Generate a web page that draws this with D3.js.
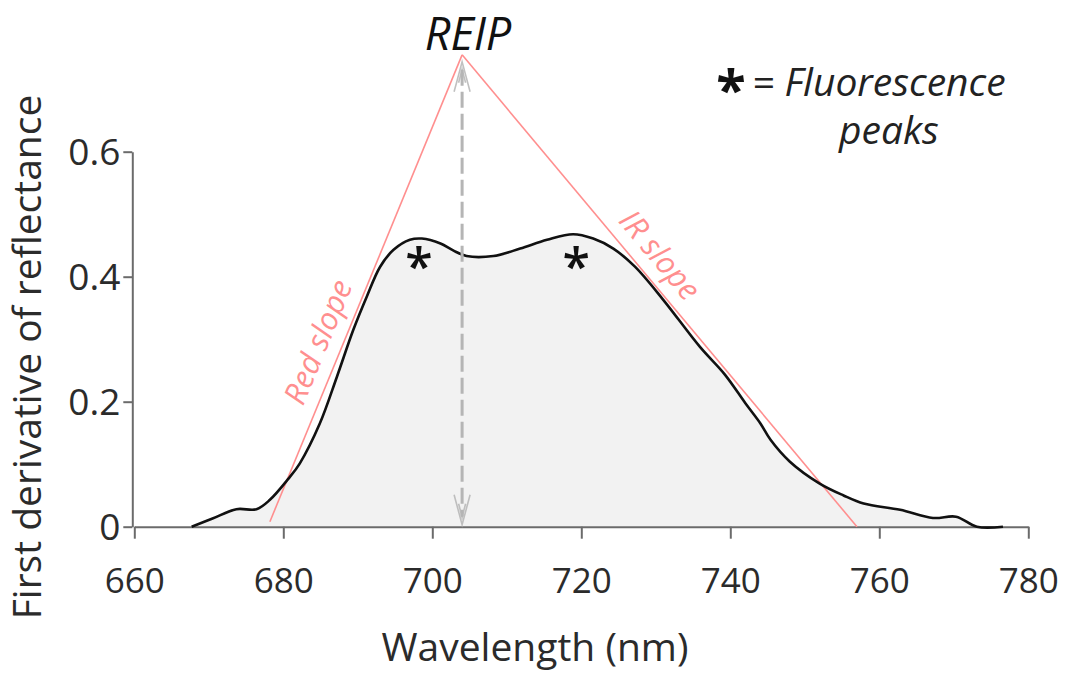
<!DOCTYPE html>
<html>
<head>
<meta charset="utf-8">
<script src="https://cdn.jsdelivr.net/npm/d3@7"></script>
<style>
  html, body { margin: 0; padding: 0; background: #fff; }
  svg { display: block; font-family: "Open Sans", sans-serif; }
</style>
</head>
<body>
<svg id="chart" width="1066" height="674"></svg>
<script>
// First-derivative reflectance spectrum of the red edge
const wavelengths = [667.7, 670.5, 673.7, 676.4, 678.2, 680.7, 682.2, 684.9, 687.2, 689.4, 691.2, 693.0, 694.8,
  697.0, 698.6, 701.1, 702.8, 704.6, 708.2, 711.8, 715.4, 718.9, 721.6, 724.3, 727.2, 731.0, 735.9,
  739.3, 742.0, 744.0, 745.4, 748.0, 752.0, 755.2, 757.9, 762.8, 767.2, 770.3, 773.1, 776.6];
const derivative = [0.000, 0.013, 0.028, 0.028, 0.043, 0.077, 0.101, 0.165, 0.240, 0.315, 0.368, 0.416, 0.443,
  0.459, 0.461, 0.453, 0.442, 0.433, 0.433, 0.445, 0.459, 0.468, 0.461, 0.445, 0.416, 0.363, 0.288,
  0.243, 0.198, 0.166, 0.139, 0.104, 0.069, 0.050, 0.037, 0.027, 0.014, 0.016, 0.000, 0.000];

// Tangent lines meeting at the red-edge inflection point
const reipWavelength = 704.0;
const apexValue = 0.755;
const redSlope = [[678.2, 0.008], [reipWavelength, apexValue]];
const irSlope = [[reipWavelength, apexValue], [757.0, 0.0]];

// Fluorescence peak markers
const peakWavelengths = [698.2, 719.3];
const peakValues = [0.43, 0.43];

const xTicks = [660, 680, 700, 720, 740, 760, 780];
const yTicks = [0, 0.2, 0.4, 0.6];
const yTickLabels = ["0", "0.2", "0.4", "0.6"];

const svg = d3.select("#chart");
const x = d3.scaleLinear().domain([660, 780]).range([134.3, 1028.3]);
const y = d3.scaleLinear().domain([0, 0.6]).range([526.7, 151.7]);

const axisColor = "#6b6b6b";
const textColor = "#2b2b2b";
const slopeColor = "#ff8f8f";

// Area under the curve
const pts = wavelengths.map((w, i) => [w, derivative[i]]);
svg.append("path")
  .datum(pts)
  .attr("fill", "#f2f2f2")
  .attr("d", d3.area().x(d => x(d[0])).y0(y(0)).y1(d => y(d[1])).curve(d3.curveCatmullRom.alpha(0.5)));

// Axes
const xAxis = svg.append("g")
  .attr("transform", `translate(0,${y(0)})`)
  .call(d3.axisBottom(x).tickValues(xTicks).tickFormat(d3.format("d")).tickSize(12).tickSizeOuter(0));
const yAxis = svg.append("g")
  .attr("transform", `translate(${x(660) - 2},0)`)
  .call(d3.axisLeft(y).tickValues(yTicks).tickFormat((d, i) => yTickLabels[i]).tickSize(9).tickSizeOuter(0));

[xAxis, yAxis].forEach(g => {
  g.select(".domain").attr("stroke", axisColor).attr("stroke-width", 2);
  g.selectAll(".tick line").attr("stroke", axisColor).attr("stroke-width", 2);
  g.selectAll(".tick text")
    .attr("fill", textColor)
    .style("font-family", "'Open Sans', sans-serif")
    .style("font-size", "35px");
});
xAxis.selectAll(".tick text").attr("dy", "0").attr("y", 66);
yAxis.selectAll(".tick text").attr("x", -12).attr("dy", "0.35em").style("font-size", "37px");

// Tangent lines
[redSlope, irSlope].forEach(seg => {
  svg.append("line")
    .attr("x1", x(seg[0][0])).attr("y1", y(seg[0][1]))
    .attr("x2", x(seg[1][0])).attr("y2", y(seg[1][1]))
    .attr("stroke", slopeColor).attr("stroke-width", 1.6);
});

// Spectrum curve
svg.append("path")
  .datum(pts)
  .attr("fill", "none")
  .attr("stroke", "#111")
  .attr("stroke-width", 2.6)
  .attr("stroke-linejoin", "round")
  .attr("d", d3.line().x(d => x(d[0])).y(d => y(d[1])).curve(d3.curveCatmullRom.alpha(0.5)));

// REIP double-headed dashed arrow
const ax = x(reipWavelength);
const arrowTop = y(apexValue) + 7;
const arrowBottom = y(0) - 2;
const arrow = svg.append("g").attr("stroke", "#b5b5b5").attr("fill", "none");
arrow.append("line")
  .attr("x1", ax).attr("x2", ax)
  .attr("y1", arrowTop + 8).attr("y2", arrowBottom - 8)
  .attr("stroke-width", 3)
  .attr("stroke-dasharray", "16 6");
function arrowHead(tipY, dir) {
  const h = 30 * dir, w = 8;
  arrow.append("path")
    .attr("d", `M${ax - w},${tipY + h} L${ax},${tipY} L${ax + w},${tipY + h} M${ax - 3.5},${tipY + h * 0.7} L${ax},${tipY + h * 0.25} L${ax + 3.5},${tipY + h * 0.7}`)
    .attr("stroke-width", 1.6)
    .attr("stroke-opacity", 0.85);
}
arrowHead(arrowTop, 1);
arrowHead(arrowBottom, -1);

// Fluorescence peak asterisks
peakWavelengths.forEach((w, i) => {
  svg.append("text")
    .attr("x", x(w)).attr("y", y(peakValues[i]) + 26)
    .attr("text-anchor", "middle")
    .attr("font-size", 50)
    .attr("font-weight", 600)
    .attr("fill", "#111")
    .text("*");
});

// Slope labels
function slopeLabel(seg, text, cx, cy) {
  const ang = Math.atan2(y(seg[1][1]) - y(seg[0][1]), x(seg[1][0]) - x(seg[0][0])) * 180 / Math.PI;
  svg.append("text")
    .attr("transform", `translate(${cx},${cy}) rotate(${ang})`)
    .attr("text-anchor", "middle")
    .attr("dy", "0.35em")
    .attr("font-size", 31)
    .attr("font-style", "italic")
    .attr("fill", slopeColor)
    .text(text);
}
slopeLabel(redSlope, "Red slope", 318, 342);
slopeLabel(irSlope, "IR slope", 660, 255);

// REIP label
svg.append("text")
  .attr("x", 468).attr("y", 50)
  .attr("text-anchor", "middle")
  .attr("font-size", 45)
  .attr("font-style", "italic")
  .attr("fill", "#111")
  .text("REIP");

// Legend note
svg.append("text")
  .attr("x", 731).attr("y", 109)
  .attr("text-anchor", "middle")
  .attr("font-size", 54)
  .attr("font-weight", 700)
  .attr("fill", "#111")
  .text("*");
svg.append("text")
  .attr("x", 752).attr("y", 96)
  .attr("font-size", 39)
  .attr("font-style", "italic")
  .attr("fill", "#222")
  .text("= Fluorescence");
svg.append("text")
  .attr("x", 889).attr("y", 144)
  .attr("text-anchor", "middle")
  .attr("font-size", 39)
  .attr("font-style", "italic")
  .attr("fill", "#222")
  .text("peaks");

// Axis titles
svg.append("text")
  .attr("x", 535).attr("y", 661)
  .attr("text-anchor", "middle")
  .attr("font-size", 39)
  .attr("fill", textColor)
  .text("Wavelength (nm)");
svg.append("text")
  .attr("transform", "translate(41,357) rotate(-90)")
  .attr("text-anchor", "middle")
  .attr("font-size", 39)
  .attr("fill", textColor)
  .text("First derivative of reflectance");
</script>
</body>
</html>
